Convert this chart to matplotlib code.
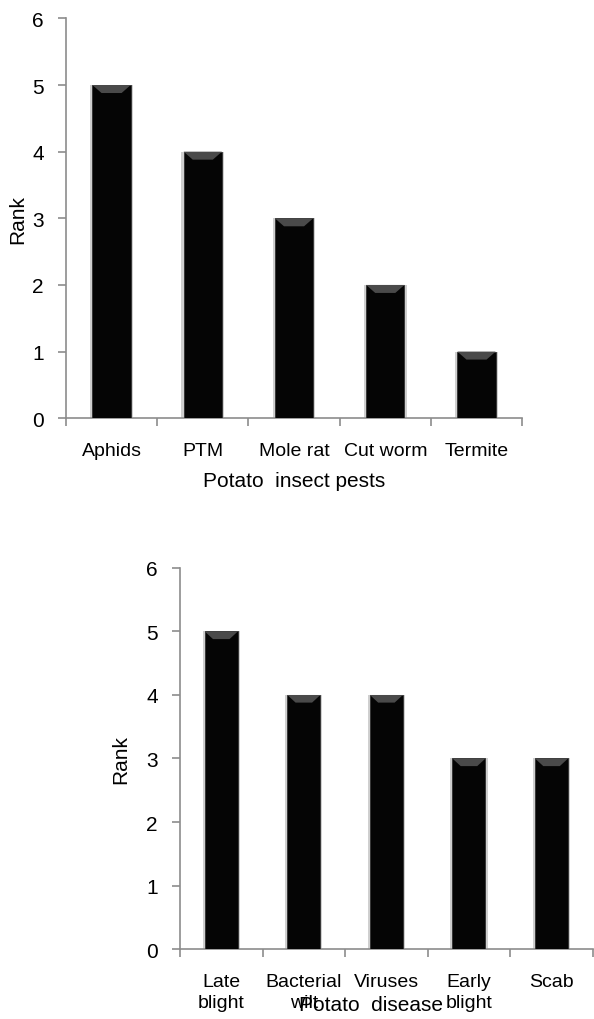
import matplotlib.pyplot as plt
from matplotlib.patches import Polygon
import numpy as np

pests = ['Aphids', 'PTM', 'Mole rat', 'Cut worm', 'Termite']
pest_rank = [5, 4, 3, 2, 1]
diseases = ['Late\nblight', 'Bacterial\nwilt', 'Viruses', 'Early\nblight', 'Scab']
disease_rank = [5, 4, 4, 3, 3]

plt.rcParams['font.family'] = ['Liberation Sans', 'DejaVu Sans']
FS = 14
GREY = '#8c8c8c'


def draw(ax, names, vals, width):
    x = np.arange(len(names))
    # soft shadow round each bar
    ax.bar(x, vals, width=width + 0.05, color='#b0b0b0', alpha=0.6, zorder=2)
    ax.bar(x, vals, width=width, color='#050505', edgecolor='#303030', lw=0.6, zorder=3)
    # glossy bevel at the top of each bar
    for xi, v in zip(x, vals):
        h = 0.12
        pts = [(xi - width / 2, v), (xi + width / 2, v),
               (xi + width / 2 - 0.1, v - h), (xi - width / 2 + 0.1, v - h)]
        ax.add_patch(Polygon(pts, closed=True, color='#4a4a4a', zorder=4, lw=0))
    ax.set_xlim(-0.5, len(names) - 0.5)
    ax.set_ylim(0, 6)
    ax.set_yticks(range(7))
    ax.set_xticks(np.arange(len(names) + 1) - 0.5)
    ax.set_xticklabels([])
    ax.set_xticks(x, minor=True)
    ax.set_xticklabels(names, minor=True, fontsize=FS, va='top', linespacing=1.3)
    ax.tick_params(axis='x', which='minor', length=0, pad=17)
    ax.tick_params(axis='x', which='major', length=6, color=GREY, width=1.2)
    ax.tick_params(axis='y', length=6, color=GREY, width=1.2, labelsize=FS + 1, pad=10)
    for s in ['top', 'right']:
        ax.spines[s].set_visible(False)
    for s in ['left', 'bottom']:
        ax.spines[s].set_color(GREY)
        ax.spines[s].set_linewidth(1.2)
    ax.set_ylabel('Rank', fontsize=FS + 1)


fig = plt.figure(figsize=(5.94, 10.2), dpi=100)
ax1 = fig.add_axes([0.111, 0.589, 0.768, 0.392])
draw(ax1, pests, pest_rank, 0.42)
ax1.set_xlabel('Potato  insect pests', fontsize=FS + 1, labelpad=9)
ax1.yaxis.set_label_coords(-0.085, 0.5)

ax2 = fig.add_axes([0.303, 0.0686, 0.695, 0.3736])
draw(ax2, diseases, disease_rank, 0.4)
ax2.yaxis.set_label_coords(-0.121, 0.5)
fig.text(0.625, 0.005, 'Potato  disease', fontsize=FS + 1, ha='center', va='bottom')

fig.savefig('out.png', dpi=100)
